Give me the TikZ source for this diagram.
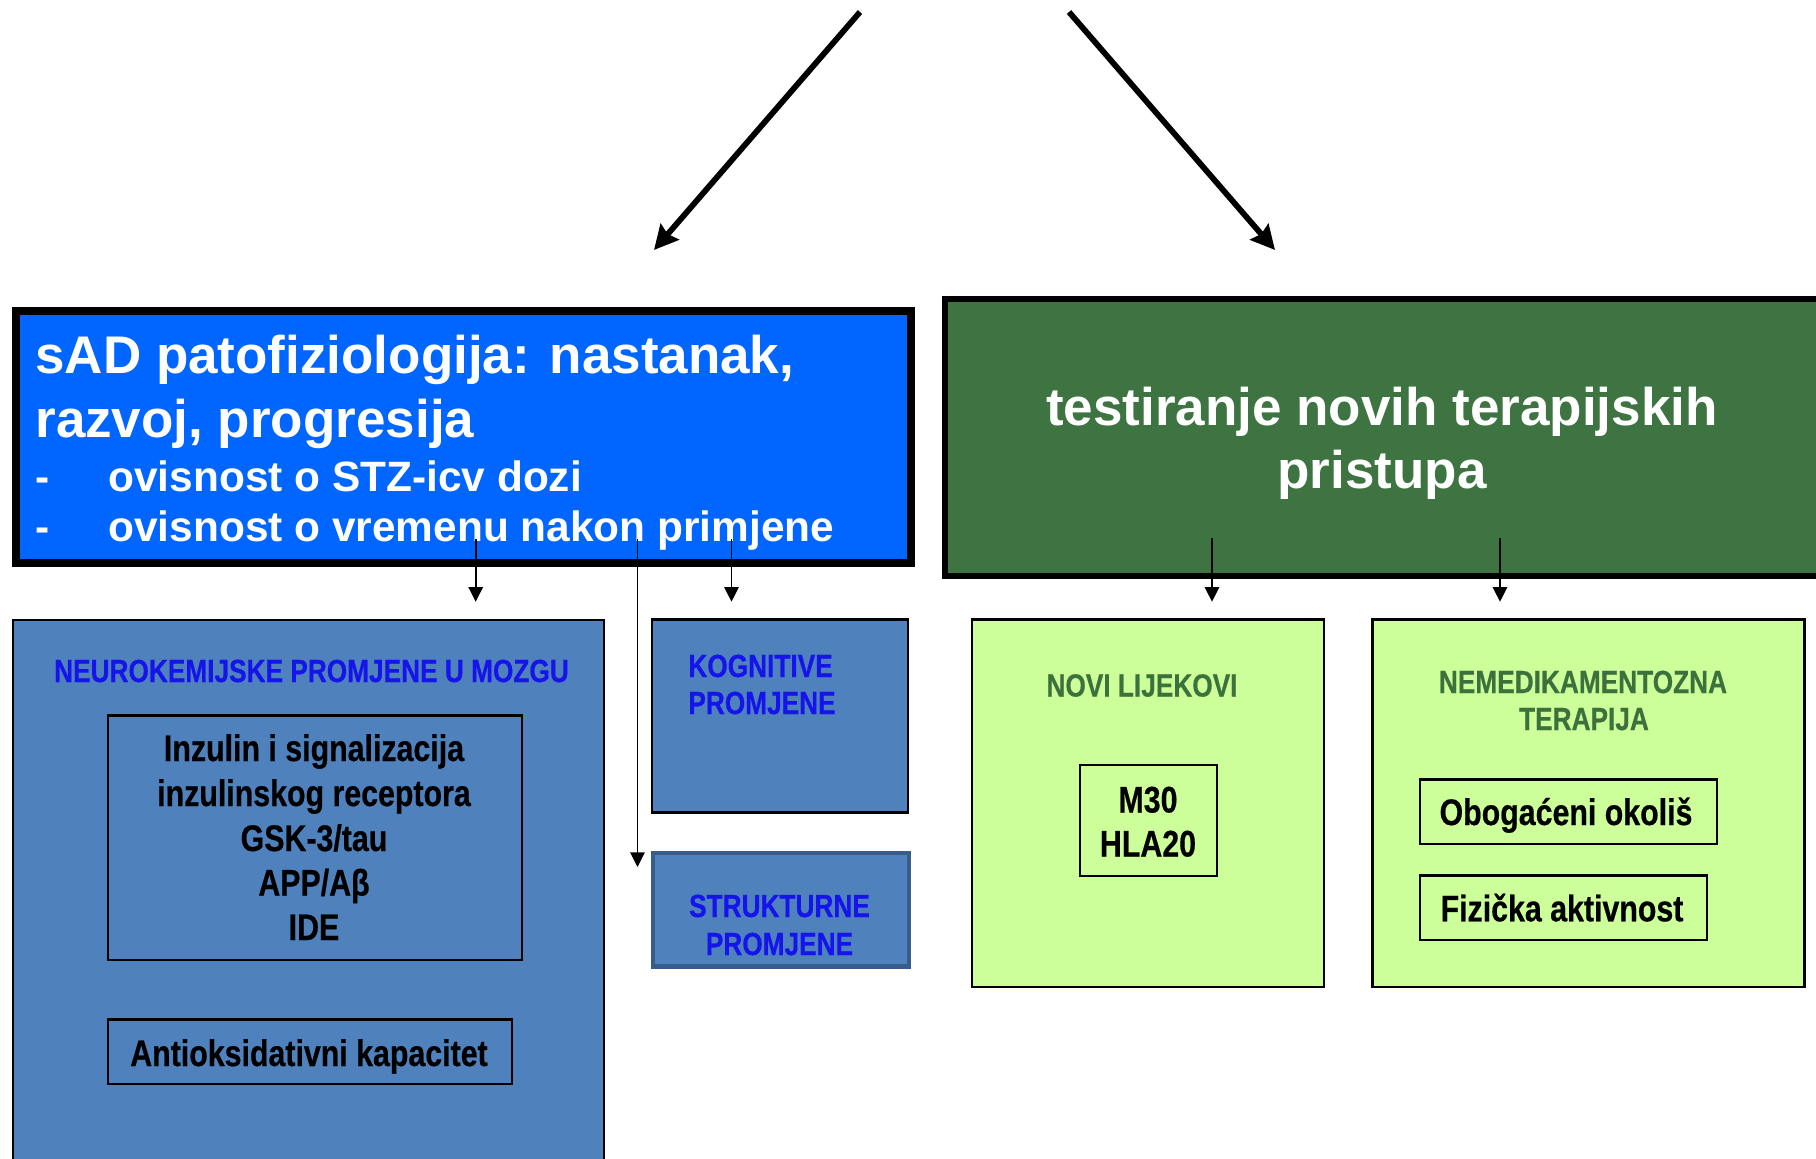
\documentclass[tikz,border=0pt]{standalone}
\usepackage{fontspec}
\setmainfont{Liberation Sans}
\newfontfamily\narrowf{Liberation Sans}[FakeStretch=0.82,FakeBold=0.5]
\usetikzlibrary{arrows.meta,fit}
\definecolor{topblue}{RGB}{0,102,255}
\definecolor{topgreen}{RGB}{62,116,65}
\definecolor{steel}{RGB}{79,129,189}
\definecolor{lightgr}{RGB}{204,255,153}
\definecolor{strukedge}{RGB}{56,93,138}
\definecolor{capblue}{RGB}{20,20,235}
\definecolor{capgreen}{RGB}{60,112,60}
\begin{document}
\begin{tikzpicture}[x=0.5pt,y=-0.5pt,
  boxbase/.style={inner sep=0pt, outer sep=0pt},
  thinbox/.style={boxbase, draw=black, line width=1.1pt},
  bigtxt/.style={inner sep=0pt, text=white, font=\fontsize{26.5}{32}\selectfont\bfseries},
  midtxt/.style={inner sep=0pt, text=white, font=\fontsize{21.2}{25.5}\selectfont\bfseries},
  captxt/.style={inner sep=0pt, anchor=base, font=\narrowf\fontsize{16}{19}\selectfont\bfseries},
  blktxt/.style={inner sep=0pt, anchor=base, text=black, font=\narrowf\fontsize{18.5}{22}\selectfont\bfseries},
  bigarrow/.style={line width=2.9pt, -{Stealth[length=12pt,width=12pt,inset=1.5pt]}},
  smallarrow/.style={line width=0.8pt, -{Triangle[length=7.3pt,width=7.2pt]}},
  plainline/.style={line width=0.8pt}
]
\fill[white] (0,0) rectangle (1816,1158);
\clip (0,0) rectangle (1816,1158);

% top arrows
\coordinate (la) at (860,12);
\coordinate (lb) at (654,250);
\coordinate (ra) at (1069,12);
\coordinate (rb) at (1275,250);
\draw[bigarrow] (la) -- (lb);
\draw[bigarrow] (ra) -- (rb);

% blue header box
\node[boxbase, fit={(15.7,311) (911,563)}, fill=topblue, draw=black, line width=4pt] (blue) {};
\node[bigtxt, anchor=base west] (b1) at (35,373) {sAD patofiziologija: nastanak,};
\node[bigtxt, anchor=base west] (b2) at (35,437) {razvoj, progresija};
\node[midtxt, anchor=base west] (b3) at (35,491) {\makebox[36.5pt][l]{-}ovisnost o STZ-icv dozi};
\node[midtxt, anchor=base west] (b4) at (35,541) {\makebox[36.5pt][l]{-}ovisnost o vremenu nakon primjene};

% green header box
\node[boxbase, fit={(944.7,299) (1840,576)}, fill=topgreen, draw=black, line width=3pt] (green) {};
\node[bigtxt, anchor=base] (g1) at (1382,425) {testiranje novih terapijskih};
\node[bigtxt, anchor=base] (g2) at (1382,488) {pristupa};

% neurochemical box
\node[thinbox, fit={(12.7,620) (604,1175)}, fill=steel] (neuro) {};
\node[captxt, text=capblue] (neurot) at (311.5,682) {NEUROKEMIJSKE PROMJENE U MOZGU};
\node[thinbox, fit={(108,715.5) (522,960)}] (insbox) {};
\node[blktxt] (i1) at (314,761) {Inzulin i signalizacija};
\node[blktxt] (i2) at (314,806) {inzulinskog receptora};
\node[blktxt] (i3) at (314,851) {GSK-3/tau};
\node[blktxt] (i4) at (314,895.5) {APP/Aβ};
\node[blktxt] (i5) at (314,940) {IDE};
\node[thinbox, fit={(108,1019.5) (512,1084)}] (antibox) {};
\node[blktxt] (anti) at (309,1066) {Antioksidativni kapacitet};

% cognitive box
\node[thinbox, fit={(652,619.5) (908,812.5)}, fill=steel] (kog) {};
\node[captxt, anchor=base west, text=capblue] (k1) at (688,677) {KOGNITIVE};
\node[captxt, anchor=base west, text=capblue] (k2) at (688,714) {PROMJENE};

% structural box
\node[boxbase, fit={(653,853) (909,966.5)}, fill=steel, draw=strukedge, line width=2.2pt] (struk) {};
\node[captxt, text=capblue] (s1) at (779.5,917) {STRUKTURNE};
\node[captxt, text=capblue] (s2) at (779.5,955) {PROMJENE};

% new drugs box
\node[thinbox, fit={(972,619.5) (1324,987)}, fill=lightgr] (novi) {};
\node[captxt, text=capgreen] (novit) at (1142,696.5) {NOVI LIJEKOVI};
\node[thinbox, fit={(1080,765) (1217,876)}] (mbox) {};
\node[blktxt] (m1) at (1148,812.5) {M30};
\node[blktxt] (m2) at (1148,856.5) {HLA20};

% non-drug therapy box
\node[thinbox, fit={(1372.5,619.5) (1804.5,987)}, fill=lightgr] (nemed) {};
\node[captxt, text=capgreen] (n1) at (1583,693) {NEMEDIKAMENTOZNA};
\node[captxt, text=capgreen] (n2) at (1584,730) {TERAPIJA};
\node[thinbox, fit={(1420,779.5) (1717,844)}] (obbox) {};
\node[blktxt] (ob) at (1566,825) {Obogaćeni okoliš};
\node[thinbox, fit={(1420,875.5) (1707,940)}] (fizbox) {};
\node[blktxt] (fiz) at (1562,921.3) {Fizička aktivnost};

% small arrows
\coordinate (s1a) at (475.7,539);
\coordinate (s1b) at (475.7,601.7);
\coordinate (s2a) at (637.5,539);
\coordinate (s2b) at (637.5,867);
\coordinate (s3a) at (731.5,539);
\coordinate (s3b) at (731.5,601.7);
\coordinate (s4a) at (1212,538);
\coordinate (s4b) at (1212,601.7);
\coordinate (s5a) at (1500,538);
\coordinate (s5b) at (1500,601.7);
\draw[smallarrow] (s1a) -- (s1b);
\draw[smallarrow] (s2a) -- (s2b);
\draw[smallarrow] (s3a) -- (s3b);
\draw[smallarrow] (s4a) -- (s4b);
\draw[smallarrow] (s5a) -- (s5b);
\end{tikzpicture}
\end{document}
